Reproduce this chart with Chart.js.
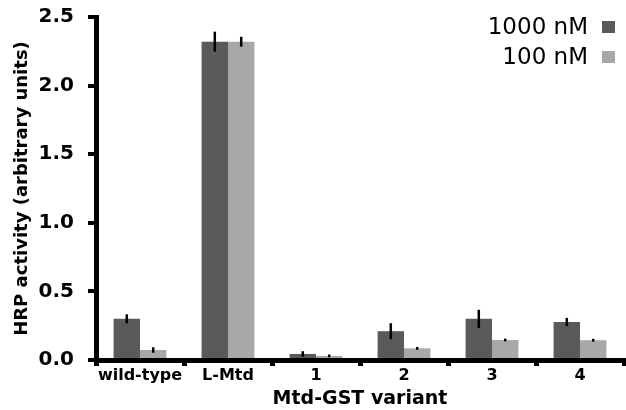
<!DOCTYPE html>
<html>
<head>
<meta charset="utf-8">
<script src="https://cdn.jsdelivr.net/npm/chart.js@4"></script>
<style>
  html, body { margin: 0; padding: 0; background: #fff; }
  #wrap { width: 626px; height: 410px; }
</style>
</head>
<body>
<div id="wrap"><canvas id="hrpChart"></canvas></div>
<script>
const categories = ['wild-type', 'L-Mtd', '1', '2', '3', '4'];
const seriesNames = ['1000 nM', '100 nM'];
const high = [0.30, 2.32, 0.044, 0.21, 0.30, 0.277];
const highErr = [0.033, 0.073, 0.02, 0.058, 0.066, 0.03];
const low = [0.073, 2.32, 0.03, 0.085, 0.146, 0.144];
const lowErr = [0.02, 0.036, 0.01, 0.01, 0.01, 0.01];
const yTicks = [0, 0.5, 1.0, 1.5, 2.0, 2.5];

const errors = [highErr, lowErr];
const FONT = '"DejaVu Sans", sans-serif';

const errorBars = {
    id: 'errorBars',
    afterDatasetsDraw(chart) {
        const ctx = chart.ctx;
        const y = chart.scales.y;
        ctx.save();
        ctx.strokeStyle = '#000';
        ctx.lineWidth = 2.5;
        chart.data.datasets.forEach((ds, i) => {
            chart.getDatasetMeta(i).data.forEach((bar, j) => {
                const v = ds.data[j], e = errors[i][j];
                ctx.beginPath();
                ctx.moveTo(bar.x, y.getPixelForValue(v + e));
                ctx.lineTo(bar.x, y.getPixelForValue(v - e));
                ctx.stroke();
            });
        });
        ctx.restore();
    }
};

const cornerLegend = {
    id: 'cornerLegend',
    afterDraw(chart) {
        const ctx = chart.ctx;
        ctx.save();
        ctx.font = '23px ' + FONT;
        ctx.textAlign = 'right';
        ctx.textBaseline = 'middle';
        chart.data.datasets.forEach((ds, i) => {
            const cy = 27 + i * 30;
            ctx.fillStyle = '#000';
            ctx.fillText(ds.label, 588, cy + 1);
            ctx.fillStyle = ds.backgroundColor;
            ctx.fillRect(602, cy - 6, 13, 12);
        });
        ctx.restore();
    }
};

new Chart(document.getElementById('hrpChart'), {
    type: 'bar',
    data: {
        labels: categories,
        datasets: [
            { label: seriesNames[0], data: high, backgroundColor: '#5a5a5a' },
            { label: seriesNames[1], data: low, backgroundColor: '#a8a8a8' }
        ]
    },
    options: {
        responsive: true,
        maintainAspectRatio: false,
        animation: false,
        layout: { padding: { top: 0, right: 2, left: 0, bottom: 0 } },
        datasets: { bar: { categoryPercentage: 0.6, barPercentage: 1.0 } },
        plugins: { legend: { display: false }, tooltip: { enabled: false } },
        scales: {
            x: {
                grid: { offset: true, drawOnChartArea: false, drawTicks: true, tickLength: 6, lineWidth: 5, color: '#000' },
                border: { display: true, width: 5, color: '#000' },
                ticks: { color: '#000', font: { family: FONT, size: 16, weight: 'bold' }, padding: 0, maxRotation: 0 },
                title: { display: true, text: 'Mtd-GST variant', color: '#000', font: { family: FONT, size: 19, weight: 'bold' }, padding: { top: -2, bottom: 0 } },
                afterFit(scale) { scale.height = 50; }
            },
            y: {
                min: 0,
                max: 2.5,
                afterBuildTicks(scale) { scale.ticks = yTicks.map(v => ({ value: v })); },
                grid: { drawOnChartArea: false, drawTicks: true, tickLength: 8, lineWidth: 4, color: '#000' },
                border: { display: true, width: 5, color: '#000' },
                ticks: {
                    color: '#000',
                    font: { family: FONT, size: 20, weight: 'bold' },
                    padding: 14,
                    callback: v => Number(v).toFixed(1)
                },
                title: { display: true, text: 'HRP activity (arbitrary units)', color: '#000', font: { family: FONT, size: 18, weight: 'bold' }, padding: { top: 12, bottom: 0 } },
                afterFit(scale) {
                    scale.width = 96;
                    scale.paddingTop = 17;
                    scale.paddingBottom = 0;
                }
            }
        }
    },
    plugins: [errorBars, cornerLegend]
});
</script>
</body>
</html>
